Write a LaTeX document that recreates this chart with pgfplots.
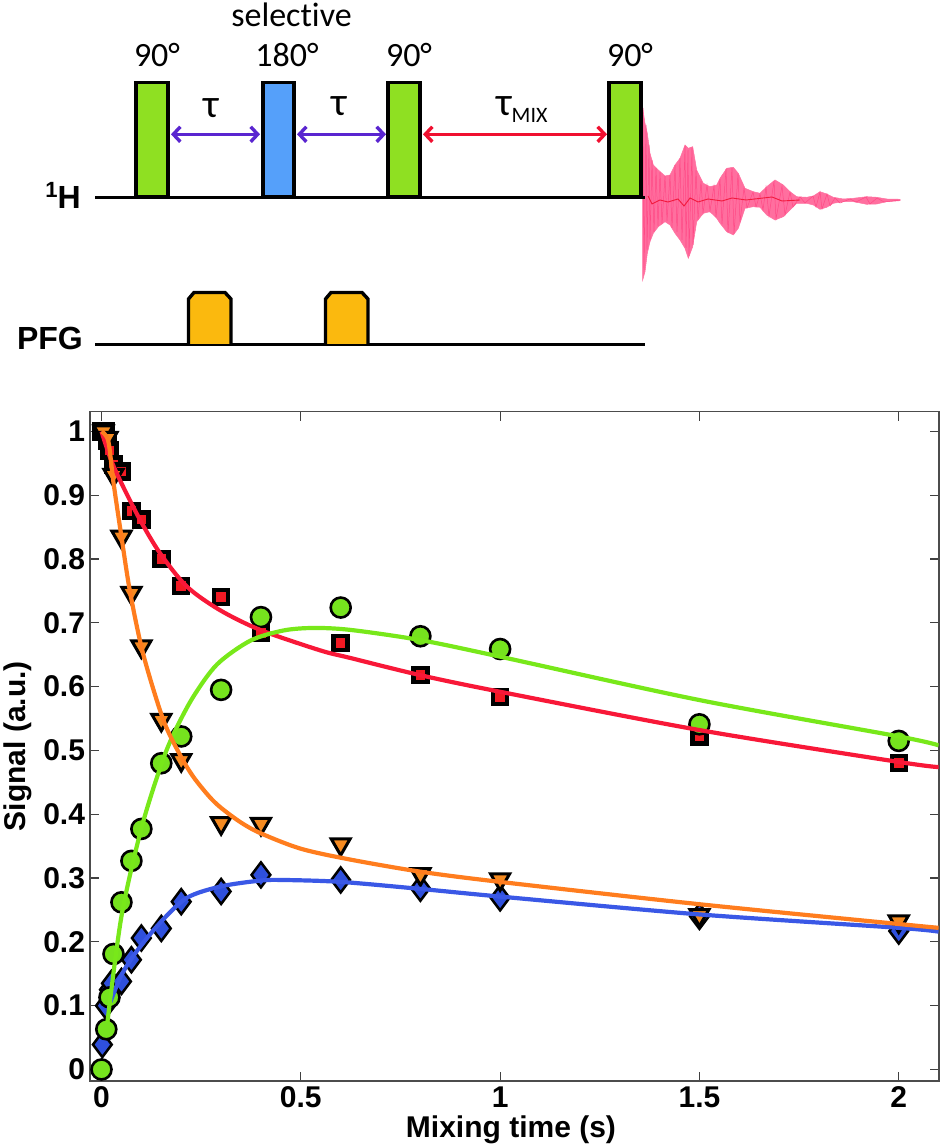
\documentclass[border=0pt]{standalone}
\usepackage{fontspec}
\usepackage{pgfplots}
\pgfplotsset{compat=1.18}
\usetikzlibrary{arrows.meta}
\setmainfont{Liberation Sans}
\newfontfamily\calib[Ligatures=NoCommon]{Carlito}

\definecolor{pgreen}{HTML}{8FE022}
\definecolor{pblue}{HTML}{55A0FA}
\definecolor{pgold}{HTML}{FBB90E}
\definecolor{tpurple}{HTML}{5A25D0}
\definecolor{tred}{HTML}{F01030}
\definecolor{fid}{HTML}{FF6F9F}
\definecolor{fiddark}{HTML}{FF4A86}
\definecolor{mgreen}{HTML}{76E31E}
\definecolor{lgreen}{HTML}{78E81A}
\definecolor{mred}{HTML}{F21A24}
\definecolor{lred}{HTML}{F81838}
\definecolor{morange}{HTML}{F58A20}
\definecolor{lorange}{HTML}{FF7D1E}
\definecolor{mblue}{HTML}{2F50DC}
\definecolor{lblue}{HTML}{3A58E6}

\newcommand{\lbl}{\calib\fontsize{34}{36}\selectfont}
\newcommand{\blbl}{\bfseries\fontsize{30}{32}\selectfont}

\begin{document}
\begin{tikzpicture}
\path[use as bounding box] (0,0) rectangle (943pt,1147pt);

% pulse sequence, in pixel coordinates of the reference
\begin{axis}[
    at={(0pt,0pt)}, anchor=south west,
    scale only axis, width=943pt, height=1147pt,
    xmin=0, xmax=943, ymin=0, ymax=1147, y dir=reverse,
    hide axis, clip=false,
]
% FID envelope
\addplot[fill=fid, draw=fid, line width=0.5pt] coordinates {
(642.7,108.3)(645,123.3)(647.3,133.3)(650,153.3)(653.3,165)(658.3,170)(665,176)(670,175)(675,165)(680,158.3)(685,145)(688.3,148.3)(692.7,146.7)(696.7,170)(703.3,183.3)(710,186.7)(716.7,185)(720,178.3)(726.7,168.3)(733.3,167.3)(738.3,173.3)(745,188.3)(753.3,191.7)(760,193.3)(766.7,186.7)(775,180)(783.3,185)(790,191.7)(796.7,196.7)(806.7,197.3)(813.3,196)(820,191.7)(826.7,194)(833.3,197.3)(843.3,199)(853.3,198.3)(866.7,196.7)(876.7,197.3)(886.7,199)(900,199.3)
(900,200.7)(886.7,201.7)(876.7,204)(866.7,204.3)(853.3,201.7)(843.3,201.7)(833.3,203.3)(826.7,207.3)(820,209.3)(813.3,205)(806.7,203.3)(796.7,203.3)(790,210)(783.3,216.7)(775,220)(766.7,215)(760,207.3)(753.3,206.7)(745,208.3)(738.3,228.3)(733.3,235)(726.7,231.7)(720,223.3)(716.7,218.3)(710,211.7)(703.3,213.3)(696.7,221.7)(692.7,246.7)(688.3,258.3)(685,248.3)(680,240)(675,233.3)(670,225)(665,221.7)(658.3,226.7)(653.3,233.3)(650,241.7)(647.3,253.3)(645,271.7)(642.7,280)
} -- cycle;
% FID oscillation
\addplot[fiddark, line width=0.5pt] coordinates {
(643,108)(644,270)(646,125)(647,250)(649,145)(650,240)(652,160)(654,232)(656,168)(658,226)(660,172)(662,224)(665,176)(667,221)(670,175)(672,228)(675,165)(677,232)(680,158)(682,240)(685,146)(686,248)(688,150)(689,256)(692,148)(693,245)(696,170)(698,220)(701,181)(703,213)(707,185)(710,211)(714,186)(716,217)(720,179)(722,224)(726,169)(728,233)(732,168)(734,234)(738,174)(740,222)(744,188)(747,208)(753,192)(756,207)(760,194)(763,210)(766,187)(769,216)(774,181)(776,219)(782,186)(785,215)(790,192)(793,207)(800,197)(805,203)(813,196)(816,207)(820,192)(822,209)(827,194)(830,206)(835,198)(840,203)(850,199)(856,202)(866,197)(870,204)(877,198)(884,202)(900,200)
};
\addplot[tred!85!fiddark, line width=0.9pt] coordinates {
(648,196)(652,204)(660,200)(668,202)(678,199)(684,206)(690,198)(698,202)(708,199)(722,201)(732,198)(746,200)(772,197)(782,201)(800,200)
};

% baselines
\addplot[black, line width=3.4pt] coordinates {(95,197.7)(645,197.7)};
\addplot[black, line width=3.4pt] coordinates {(95,344.3)(645,344.3)};

% pulses
\addplot[fill=pgreen, draw=black, line width=3.4pt] coordinates {(136,197)(136,82.5)(168,82.5)(168,197)} -- cycle;
\addplot[fill=pblue, draw=black, line width=3.4pt] coordinates {(263,197)(263,82.5)(294,82.5)(294,197)} -- cycle;
\addplot[fill=pgreen, draw=black, line width=3.4pt] coordinates {(388,197)(388,82.5)(420,82.5)(420,197)} -- cycle;
\addplot[fill=pgreen, draw=black, line width=3.4pt] coordinates {(609,197)(609,82.5)(641,82.5)(641,197)} -- cycle;

% gradients
\addplot[fill=pgold, draw=black, line width=3.4pt] coordinates {(188.5,344)(188.5,299)(194,292.5)(225,292.5)(231,299)(231,344)};
\addplot[fill=pgold, draw=black, line width=3.4pt] coordinates {(325.5,344)(325.5,299)(331,292.5)(362,292.5)(368,299)(368,344)};

% delays
\addplot[tpurple, line width=3.4pt, {Straight Barb[length=7pt,width=15pt]}-{Straight Barb[length=7pt,width=15pt]}] coordinates {(171,134.3)(260,134.3)};
\addplot[tpurple, line width=3.4pt, {Straight Barb[length=7pt,width=15pt]}-{Straight Barb[length=7pt,width=15pt]}] coordinates {(297,134.3)(386,134.3)};
\addplot[tred, line width=3.4pt, {Straight Barb[length=7pt,width=15pt]}-{Straight Barb[length=7pt,width=15pt]}] coordinates {(423,134.3)(607,134.3)};

% text
\node[font=\lbl] at (axis cs:291.5,15) {selective};
\node[font=\lbl] at (axis cs:157,55) {90°};
\node[font=\lbl] at (axis cs:287,55) {180°};
\node[font=\lbl] at (axis cs:409,55) {90°};
\node[font=\lbl] at (axis cs:630,55) {90°};
\node[font=\calib\fontsize{40}{40}\selectfont, anchor=base, inner sep=0pt] at (axis cs:211,118) {τ};
\node[font=\calib\fontsize{40}{40}\selectfont, anchor=base, inner sep=0pt] at (axis cs:339,116) {τ};
\node[font=\calib\fontsize{40}{40}\selectfont, anchor=base west, inner sep=0pt] at (axis cs:496,116) {τ\raisebox{-7pt}{\fontsize{22}{22}\selectfont MIX}};
\node[anchor=base east, inner sep=0pt, font=\bfseries\fontsize{32}{34}\selectfont] at (axis cs:81,209) {\raisebox{11pt}{\fontsize{22}{22}\selectfont 1}H};
\node[anchor=base east, inner sep=0pt, font=\bfseries\fontsize{32}{34}\selectfont] at (axis cs:83,350) {PFG};
\end{axis}

% signal against mixing time
\begin{axis}[
    at={(90pt,66.3pt)}, anchor=south west,
    scale only axis, width=848.7pt, height=669pt,
    xmin=-0.0289, xmax=2.1003, ymin=-0.0176, ymax=1.031,
    xtick={0,0.5,1,1.5,2},
    xticklabels={0,0.5,1,1.5,2},
    ytick={0,0.1,0.2,0.3,0.4,0.5,0.6,0.7,0.8,0.9,1},
    yticklabels={0,0.1,0.2,0.3,0.4,0.5,0.6,0.7,0.8,0.9,1},
    tick align=inside, major tick length=9pt,
    every tick/.style={black!75, line width=1.2pt},
    axis line style={black!70, line width=1.6pt},
    tick label style={font=\blbl},
    xticklabel style={yshift=-2.5pt},
    yticklabel style={xshift=-1.5pt},
    xlabel={Mixing time (s)},
    ylabel={Signal (a.u.)},
    label style={font=\blbl},
    xlabel style={at={(axis description cs:0.496,0)}, anchor=base, yshift=-57pt},
    ylabel style={at={(axis description cs:-0.0848,0.5)}, anchor=center},
    clip mode=individual,
]
\addplot[only marks, mark=diamond*, mark size=12.5pt, mark options={draw=black, fill=mblue, line width=2.5pt}] coordinates {
(0.002,0.039)(0.01,0.1)(0.02,0.125)(0.025,0.135)(0.05,0.138)(0.075,0.172)(0.1,0.206)(0.15,0.221)(0.2,0.263)(0.3,0.279)(0.4,0.305)(0.6,0.297)(0.8,0.284)(1,0.269)(1.5,0.24)(2,0.217)
};
\addplot[only marks, mark=square*, mark size=7pt, mark options={draw=black, fill=mred, line width=4.4pt}] coordinates {
(0,1)(0.01,1)(0.015,0.985)(0.02,0.97)(0.03,0.948)(0.05,0.937)(0.075,0.875)(0.1,0.862)(0.15,0.8)(0.2,0.758)(0.3,0.741)(0.4,0.684)(0.6,0.668)(0.8,0.618)(1,0.584)(1.5,0.522)(2,0.48)
};
\addplot[only marks, mark=triangle*, mark size=11pt, mark options={draw=black, fill=morange, line width=3pt, rotate=180}] coordinates {
(0.005,1)(0.015,0.99)(0.03,0.932)(0.05,0.835)(0.075,0.747)(0.1,0.663)(0.15,0.548)(0.2,0.485)(0.3,0.386)(0.4,0.385)(0.6,0.353)(0.8,0.306)(1,0.298)(1.5,0.242)(2,0.232)
};
\addplot[only marks, mark=*, mark size=10pt, mark options={draw=black, fill=mgreen, line width=2.6pt}] coordinates {
(0,0)(0.012,0.063)(0.02,0.113)(0.03,0.181)(0.05,0.262)(0.075,0.327)(0.1,0.377)(0.15,0.48)(0.2,0.522)(0.3,0.595)(0.4,0.709)(0.6,0.724)(0.8,0.679)(1,0.659)(1.5,0.541)(2,0.515)
};
\addplot[lblue, line width=4.2pt, smooth] coordinates {
(0.021,0.104)(0.05,0.148)(0.088,0.185)(0.147,0.23)(0.214,0.269)(0.3,0.287)(0.398,0.296)(0.456,0.297)(0.6,0.294)(0.8,0.283)(1,0.271)(1.5,0.243)(2,0.222)(2.1,0.216)
};
\addplot[lred, line width=4.2pt, smooth] coordinates {
(0,1)(0.021,0.96)(0.046,0.924)(0.097,0.861)(0.147,0.809)(0.214,0.757)(0.297,0.72)(0.398,0.689)(0.548,0.657)(0.624,0.645)(0.8,0.618)(1,0.592)(1.5,0.532)(2,0.482)(2.1,0.474)
};
\addplot[lgreen, line width=4.2pt, smooth] coordinates {
(0.015,0.075)(0.05,0.24)(0.1,0.378)(0.151,0.48)(0.184,0.53)(0.23,0.584)(0.29,0.635)(0.373,0.672)(0.456,0.688)(0.531,0.692)(0.624,0.689)(0.8,0.673)(1,0.647)(1.5,0.579)(2,0.522)(2.1,0.508)
};
\addplot[lorange, line width=4.2pt, smooth] coordinates {
(0,1)(0.017,0.985)(0.03,0.92)(0.05,0.835)(0.072,0.747)(0.105,0.65)(0.155,0.548)(0.197,0.493)(0.23,0.459)(0.27,0.428)(0.3,0.41)(0.35,0.387)(0.4,0.37)(0.5,0.346)(0.624,0.329)(0.8,0.31)(1,0.294)(1.5,0.259)(2,0.228)(2.1,0.222)
};
\end{axis}
\end{tikzpicture}
\end{document}
